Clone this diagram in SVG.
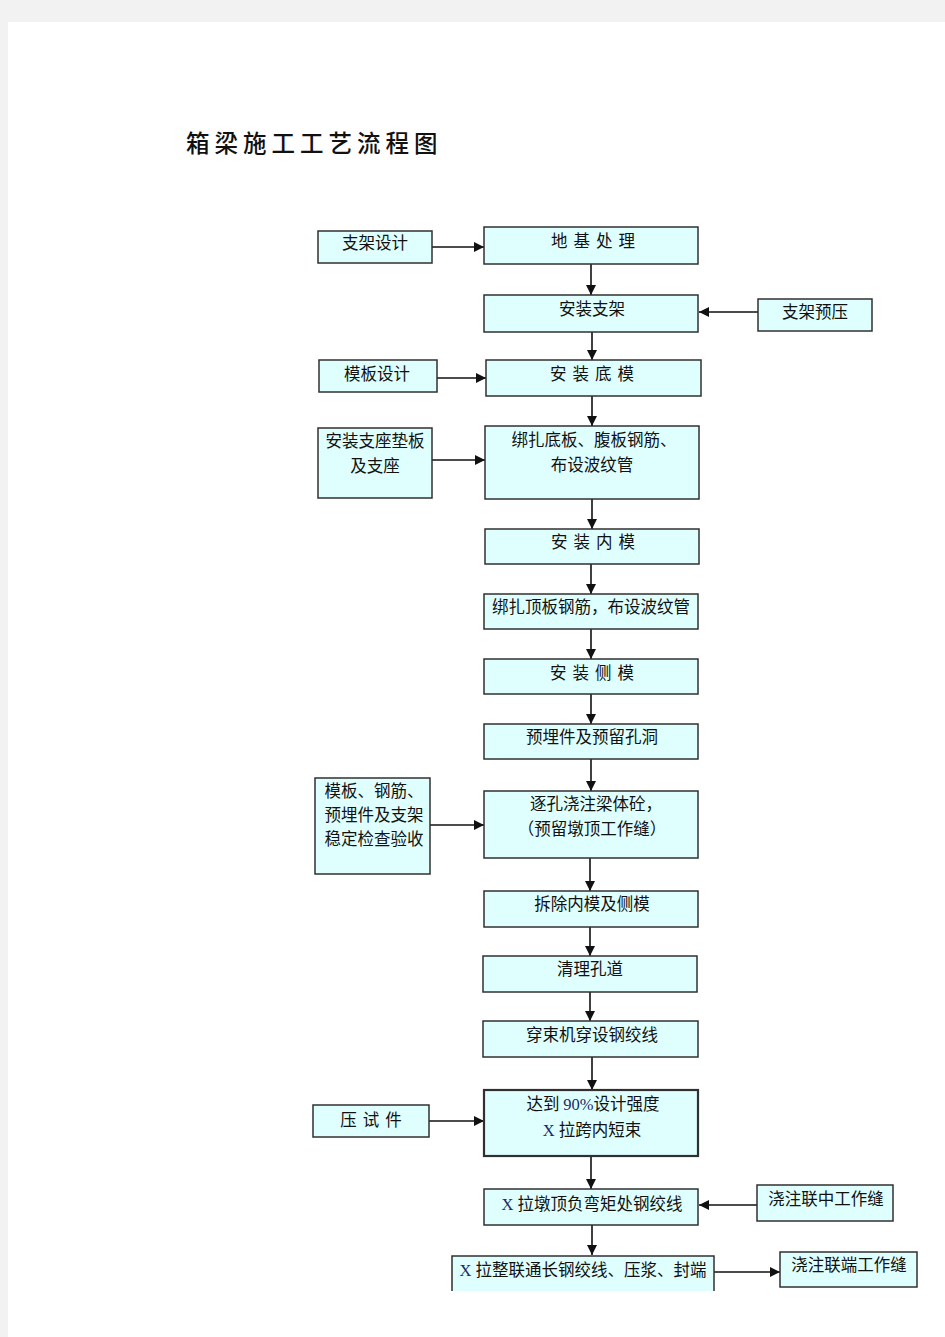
<svg xmlns="http://www.w3.org/2000/svg" width="945" height="1337" viewBox="0 0 945 1337">
<style>
.b{fill:#dfffff;stroke:#303030;stroke-width:1.5}
.t{font-family:"Noto Sans CJK SC","Noto Sans",sans-serif;font-size:16.5px;fill:#111;text-anchor:middle}
.s{letter-spacing:6px}
.l{font-family:"Liberation Serif",serif;fill:#1a2a66}
.c{stroke:#111;stroke-width:1.6;fill:none;marker-end:url(#a)}
.ttl{font-family:"Noto Sans CJK SC",serif;font-size:23.5px;letter-spacing:5px;fill:#111;font-weight:500}
</style>
<defs>
<marker id="a" viewBox="0 0 10 10" refX="10" refY="5" markerWidth="10" markerHeight="10" markerUnits="userSpaceOnUse" orient="auto">
<path d="M0,0 L10,5 L0,10 z" fill="#111"/>
</marker>
</defs>
<rect width="945" height="1337" fill="#f2f2f2"/>
<rect x="8" y="22" width="937" height="1315" fill="#fff"/>
<text class="ttl" x="186" y="152">箱梁施工工艺流程图</text>

<g id="connectors">
<line class="c" x1="432" y1="247" x2="484" y2="247"/>
<line class="c" x1="591" y1="264" x2="591" y2="295"/>
<line class="c" x1="758" y1="312" x2="699" y2="312"/>
<line class="c" x1="592" y1="332" x2="592" y2="360"/>
<line class="c" x1="437" y1="378" x2="486" y2="378"/>
<line class="c" x1="592" y1="396" x2="592" y2="426"/>
<line class="c" x1="432" y1="460" x2="485" y2="460"/>
<line class="c" x1="592" y1="499" x2="592" y2="529"/>
<line class="c" x1="591" y1="564" x2="591" y2="594"/>
<line class="c" x1="591" y1="629" x2="591" y2="659"/>
<line class="c" x1="591" y1="694" x2="591" y2="724"/>
<line class="c" x1="591" y1="759" x2="591" y2="791"/>
<line class="c" x1="430" y1="825" x2="484" y2="825"/>
<line class="c" x1="590" y1="858" x2="590" y2="891"/>
<line class="c" x1="590" y1="927" x2="590" y2="956"/>
<line class="c" x1="590" y1="992" x2="590" y2="1021"/>
<line class="c" x1="592" y1="1057" x2="592" y2="1090"/>
<line class="c" x1="429" y1="1121" x2="484" y2="1121"/>
<line class="c" x1="591" y1="1156" x2="591" y2="1189"/>
<line class="c" x1="757" y1="1205" x2="699" y2="1205"/>
<line class="c" x1="592" y1="1225" x2="592" y2="1255"/>
<line class="c" x1="714" y1="1272" x2="780" y2="1272"/>
</g>

<g id="n1"><rect class="b" x="318" y="231" width="114" height="32"/><text class="t" x="375" y="249">支架设计</text></g>
<g id="n2"><rect class="b" x="484" y="227" width="214" height="37"/><text class="t s" x="596" y="247">地基处理</text></g>
<g id="n3"><rect class="b" x="484" y="295" width="214" height="37"/><text class="t" x="592" y="315">安装支架</text></g>
<g id="n4"><rect class="b" x="758" y="299" width="114" height="32"/><text class="t" x="815" y="318">支架预压</text></g>
<g id="n5"><rect class="b" x="486" y="360" width="215" height="36"/><text class="t s" x="595" y="380">安装底模</text></g>
<g id="n6"><rect class="b" x="319" y="360" width="118" height="32"/><text class="t" x="377" y="380">模板设计</text></g>
<g id="n7"><rect class="b" x="485" y="426" width="214" height="73"/><text class="t" x="594" y="446">绑扎底板、腹板钢筋、</text><text class="t" x="592" y="471">布设波纹管</text></g>
<g id="n8"><rect class="b" x="318" y="428" width="114" height="70"/><text class="t" x="375" y="447">安装支座垫板</text><text class="t" x="375" y="472">及支座</text></g>
<g id="n9"><rect class="b" x="485" y="529" width="214" height="35"/><text class="t s" x="596" y="548">安装内模</text></g>
<g id="n10"><rect class="b" x="484" y="594" width="214" height="35"/><text class="t" x="591" y="613">绑扎顶板钢筋，布设波纹管</text></g>
<g id="n11"><rect class="b" x="484" y="659" width="214" height="35"/><text class="t s" x="595" y="679">安装侧模</text></g>
<g id="n12"><rect class="b" x="484" y="724" width="214" height="35"/><text class="t" x="592" y="743">预埋件及预留孔洞</text></g>
<g id="n13"><rect class="b" x="484" y="791" width="214" height="67"/><text class="t" x="596" y="810">逐孔浇注梁体砼，</text><text class="t" x="592" y="835">（预留墩顶工作缝）</text></g>
<g id="n14"><rect class="b" x="315" y="778" width="115" height="96"/><text class="t" x="374" y="797">模板、钢筋、</text><text class="t" x="374" y="821">预埋件及支架</text><text class="t" x="374" y="845">稳定检查验收</text></g>
<g id="n15"><rect class="b" x="484" y="891" width="214" height="36"/><text class="t" x="592" y="910">拆除内模及侧模</text></g>
<g id="n16"><rect class="b" x="483" y="956" width="214" height="36"/><text class="t" x="590" y="975">清理孔道</text></g>
<g id="n17"><rect class="b" x="483" y="1021" width="215" height="36"/><text class="t" x="592" y="1041">穿束机穿设钢绞线</text></g>
<g id="n18"><rect class="b" x="484" y="1090" width="214" height="66" style="stroke-width:2.2"/><text class="t" x="593" y="1110">达到 <tspan class="l">90%</tspan>设计强度</text><text class="t" x="592" y="1136"><tspan class="l">X </tspan>拉跨内短束</text></g>
<g id="n19"><rect class="b" x="313" y="1105" width="116" height="32"/><text class="t s" x="374" y="1126">压试件</text></g>
<g id="n20"><rect class="b" x="484" y="1189" width="214" height="36"/><text class="t" x="592" y="1210"><tspan class="l">X </tspan>拉墩顶负弯矩处钢绞线</text></g>
<g id="n21"><rect class="b" x="757" y="1185" width="136" height="36"/><text class="t" x="826" y="1205">浇注联中工作缝</text></g>
<g id="n22"><path d="M452,1291 V1256 H714 V1291 Z" fill="#dfffff"/><path d="M452,1291 V1256 H714 V1291" fill="none" stroke="#303030" stroke-width="1.5"/><text class="t" x="583" y="1276"><tspan class="l">X </tspan>拉整联通长钢绞线、压浆、封端</text></g>
<g id="n23"><rect class="b" x="780" y="1252" width="137" height="35"/><text class="t" x="849" y="1271">浇注联端工作缝</text></g>
</svg>
